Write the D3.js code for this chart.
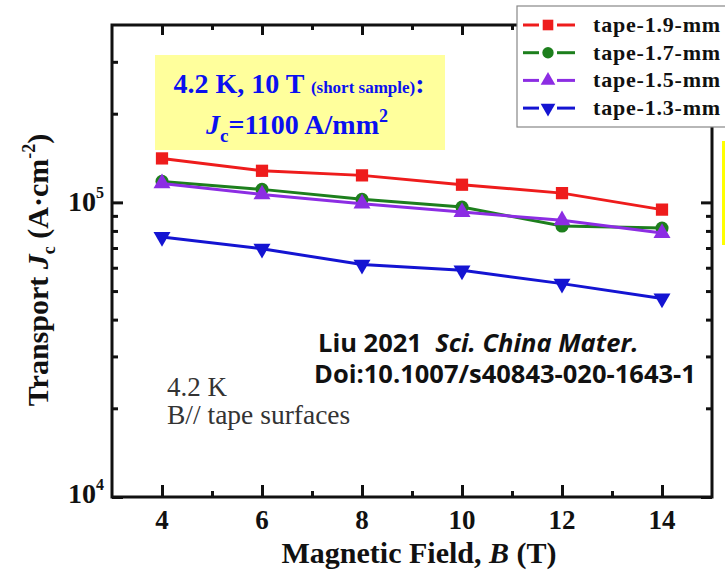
<!DOCTYPE html>
<html>
<head>
<meta charset="utf-8">
<script src="https://d3js.org/d3.v7.min.js"></script>
<style>
  body { margin: 0; background: #fff; }
  svg { display: block; }
  .serif { font-family: "Liberation Serif", "Times New Roman", serif; }
</style>
</head>
<body>
<svg id="chart"></svg>
<script>
    // data
    var fields = [4, 6, 8, 10, 12, 14];
    var tape19 = [141000, 128000, 123500, 114800, 107500, 94500];
    var tape17 = [117800, 110700, 102400, 96400, 83100, 81800];
    var tape15 = [116000, 106400, 99000, 92700, 86900, 78700];
    var tape13 = [76300, 69600, 61500, 58800, 53000, 47200];
    var names = ["tape-1.9-mm", "tape-1.7-mm", "tape-1.5-mm", "tape-1.3-mm"];
    var xTicks = [4, 6, 8, 10, 12, 14];
    var xMinor = [5, 7, 9, 11, 13];
    var yMajor = [1e4, 1e5];
    var yMinor = [2e4, 3e4, 4e4, 5e4, 6e4, 7e4, 8e4, 9e4, 2e5, 3e5];

    var width = 725, height = 578;
    var pLeft = 112, pRight = 712, pTop = 25, pBottom = 497;

    var svg = d3.select("#chart")
        .attr("width", width)
        .attr("height", height);

    var x = d3.scaleLinear().domain([3, 15]).range([pLeft, pRight]);
    var y = d3.scaleLog().domain([1e4, 4e5]).range([pBottom, pTop]);

    var series = [
        { name: names[0], values: tape19, color: "#ee1c1c", symbol: d3.symbolSquare, size: 150, rot: 0 },
        { name: names[1], values: tape17, color: "#1d7f1d", symbol: d3.symbolCircle, size: 135, rot: 0 },
        { name: names[2], values: tape15, color: "#8c2de3", symbol: d3.symbolTriangle, size: 125, rot: 0 },
        { name: names[3], values: tape13, color: "#1414d2", symbol: d3.symbolTriangle, size: 125, rot: 180 }
    ];

    // ticks (all pointing inward)
    var ax = svg.append("g").attr("class", "axes");
    function noLabels(a) { return a.tickFormat(""); }
    ax.append("g").attr("transform", "translate(0," + pBottom + ")")
        .call(noLabels(d3.axisBottom(x).tickValues(xTicks).tickSize(-12).tickSizeOuter(0)));
    ax.append("g").attr("transform", "translate(0," + pBottom + ")")
        .call(noLabels(d3.axisBottom(x).tickValues(xMinor).tickSize(-6).tickSizeOuter(0)));
    ax.append("g").attr("transform", "translate(0," + pTop + ")")
        .call(noLabels(d3.axisTop(x).tickValues(xTicks).tickSize(-10).tickSizeOuter(0)));
    ax.append("g").attr("transform", "translate(0," + pTop + ")")
        .call(noLabels(d3.axisTop(x).tickValues(xMinor).tickSize(-5).tickSizeOuter(0)));
    ax.append("g").attr("transform", "translate(" + pLeft + ",0)")
        .call(noLabels(d3.axisLeft(y).tickValues(yMajor).tickSize(-11).tickSizeOuter(0)));
    ax.append("g").attr("transform", "translate(" + pLeft + ",0)")
        .call(noLabels(d3.axisLeft(y).tickValues(yMinor).tickSize(-6).tickSizeOuter(0)));
    ax.append("g").attr("transform", "translate(" + pRight + ",0)")
        .call(noLabels(d3.axisRight(y).tickValues(yMajor).tickSize(-11).tickSizeOuter(0)));
    ax.append("g").attr("transform", "translate(" + pRight + ",0)")
        .call(noLabels(d3.axisRight(y).tickValues(yMinor).tickSize(-6).tickSizeOuter(0)));
    ax.selectAll(".domain").remove();
    ax.selectAll(".tick line").attr("stroke", "#111").attr("stroke-width", 3);

    svg.append("rect")
        .attr("x", pLeft).attr("y", pTop)
        .attr("width", pRight - pLeft).attr("height", pBottom - pTop)
        .attr("fill", "none").attr("stroke", "#111").attr("stroke-width", 3);

    // x tick labels
    svg.append("g").selectAll("text")
        .data(xTicks)
        .join("text")
        .attr("class", "serif")
        .attr("x", d => x(d))
        .attr("y", 529)
        .attr("text-anchor", "middle")
        .style("font-size", "27px")
        .style("font-weight", "bold")
        .attr("fill", "#111")
        .text(d => d);

    // y tick labels 10^n
    var yl = svg.append("g").selectAll("text")
        .data(yMajor)
        .join("text")
        .attr("class", "serif")
        .attr("x", 104)
        .attr("y", d => y(d) + (d === 1e4 ? 6 : 9))
        .attr("text-anchor", "end")
        .style("font-size", "28px")
        .style("font-weight", "bold")
        .attr("fill", "#111");
    yl.append("tspan").text("10");
    yl.append("tspan").attr("dy", -13).style("font-size", "16px").text(d => Math.round(Math.log10(d)));

    // axis titles
    var xt = svg.append("text")
        .attr("class", "serif")
        .attr("x", 419).attr("y", 563)
        .attr("text-anchor", "middle")
        .style("font-size", "30px").style("font-weight", "bold")
        .attr("fill", "#111");
    xt.append("tspan").text("Magnetic Field, ");
    xt.append("tspan").style("font-style", "italic").text("B");
    xt.append("tspan").text(" (T)");

    var yt = svg.append("text")
        .attr("class", "serif")
        .attr("transform", "translate(48,270) rotate(-90)")
        .attr("text-anchor", "middle")
        .style("font-size", "30px").style("font-weight", "bold")
        .attr("fill", "#111");
    yt.append("tspan").text("Transport ");
    yt.append("tspan").style("font-style", "italic").text("J");
    yt.append("tspan").attr("dy", 7).style("font-size", "18px").text("c");
    yt.append("tspan").attr("dy", -7).text(" (A\u00b7cm");
    yt.append("tspan").attr("dy", -13).style("font-size", "18px").text("-2");
    yt.append("tspan").attr("dy", 13).text(")");

    // yellow box
    svg.append("rect")
        .attr("x", 155).attr("y", 55).attr("width", 290).attr("height", 95)
        .attr("fill", "#ffff9c");
    var b1 = svg.append("text")
        .attr("class", "serif")
        .attr("x", 299).attr("y", 93)
        .attr("text-anchor", "middle")
        .style("font-weight", "bold").attr("fill", "#0a10f0")
        .style("font-size", "28px");
    b1.append("tspan").text("4.2 K, 10 T ");
    b1.append("tspan").style("font-size", "17px").text("(short sample)");
    b1.append("tspan").text(":");
    var b2 = svg.append("text")
        .attr("class", "serif")
        .attr("x", 297).attr("y", 134)
        .attr("text-anchor", "middle")
        .style("font-weight", "bold").attr("fill", "#0a10f0")
        .style("font-size", "28px");
    b2.append("tspan").style("font-style", "italic").text("J");
    b2.append("tspan").attr("dy", 8).style("font-size", "19px").text("c");
    b2.append("tspan").attr("dy", -8).text("=1100 A/mm");
    b2.append("tspan").attr("dy", -12).style("font-size", "18px").text("2");

    // lines and markers
    var line = d3.line()
        .x((d, i) => x(fields[i]))
        .y(d => y(d));

    series.forEach(function (s) {
        svg.append("path")
            .datum(s.values)
            .attr("fill", "none")
            .attr("stroke", s.color)
            .attr("stroke-width", 3)
            .attr("d", line);
        svg.append("g").selectAll("path")
            .data(s.values)
            .join("path")
            .attr("d", d3.symbol().type(s.symbol).size(s.size))
            .attr("transform", (d, i) => "translate(" + x(fields[i]) + "," + y(d) + ") rotate(" + s.rot + ")")
            .attr("fill", s.color);
    });

    // notes
    var n1 = svg.append("text")
        .attr("x", 318).attr("y", 352)
        .style("white-space", "pre")
        .style("font-family", "'Open Sans', 'Liberation Sans', sans-serif")
        .style("font-size", "25.5px").style("font-weight", "bold").attr("fill", "#111");
    n1.append("tspan").text("Liu 2021  ");
    n1.append("tspan").style("font-style", "italic").text("Sci. China Mater.");
    svg.append("text")
        .attr("x", 314).attr("y", 383)
        .style("font-family", "'Open Sans', 'Liberation Sans', sans-serif")
        .style("font-size", "25.5px").style("font-weight", "bold").attr("fill", "#111")
        .text("Doi:10.1007/s40843-020-1643-1");

    svg.append("text").attr("class", "serif")
        .attr("x", 167).attr("y", 396)
        .style("font-size", "27px").attr("fill", "#333")
        .text("4.2 K");
    svg.append("text").attr("class", "serif")
        .attr("x", 167).attr("y", 424)
        .style("font-size", "27.5px").attr("fill", "#333")
        .text("B// tape surfaces");

    // legend
    var lg = svg.append("g");
    lg.append("rect")
        .attr("x", 517).attr("y", 6).attr("width", 230).attr("height", 121)
        .attr("fill", "#fff").attr("stroke", "#888").attr("stroke-width", 1.2);
    var rows = lg.selectAll("g")
        .data(series)
        .join("g")
        .attr("transform", (d, i) => "translate(0," + (25 + i * 27.7) + ")");
    rows.append("line")
        .attr("x1", 523).attr("x2", 539)
        .attr("stroke", d => d.color).attr("stroke-width", 3);
    rows.append("line")
        .attr("x1", 557).attr("x2", 575)
        .attr("stroke", d => d.color).attr("stroke-width", 3);
    rows.append("path")
        .attr("d", d => d3.symbol().type(d.symbol).size(d.size * 0.75)())
        .attr("transform", d => "translate(548,0) rotate(" + d.rot + ")")
        .attr("fill", d => d.color);
    rows.append("text")
        .attr("class", "serif")
        .attr("x", 593).attr("y", 7)
        .style("font-size", "22px").style("font-weight", "bold")
        .style("letter-spacing", "0.8px")
        .attr("fill", "#111")
        .text(d => d.name);

    // yellow edge at far right
    svg.append("rect")
        .attr("x", 722).attr("y", 141).attr("width", 3).attr("height", 104)
        .attr("fill", "#ffff00");
</script>
</body>
</html>
